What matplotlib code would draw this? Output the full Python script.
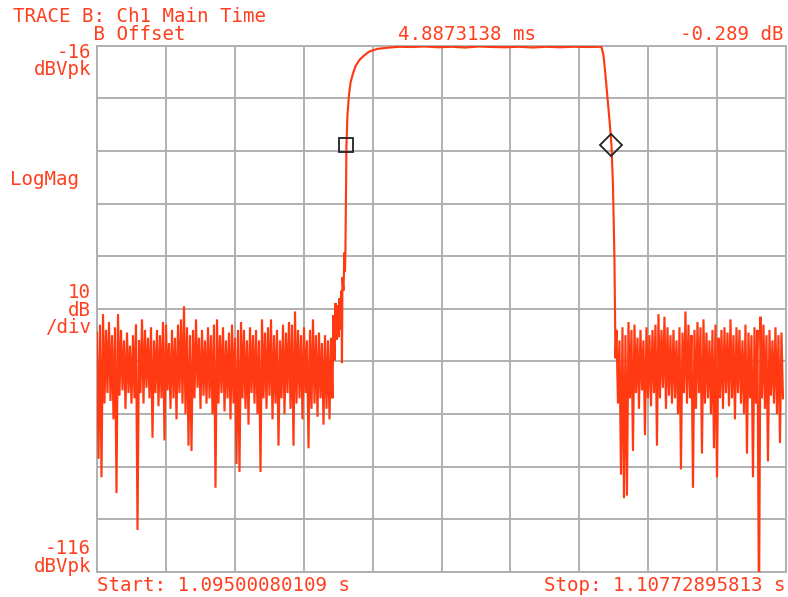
import numpy as np
import matplotlib
matplotlib.use("Agg")
import matplotlib.pyplot as plt

# ---------------- data (time in ms from start, level in dBVpk) ----------------
span_ms = 12.72815704
ms_per_px = span_ms / 689.0
noise_step = 3 * ms_per_px

# left noise floor (before burst): upper and lower excursions per step
left_t0 = 0.0
left_hi = [-70.5, -69, -67, -70, -68.5, -71, -69.5, -67, -70, -72, -70.5, -73, -71, -69, -72, -68,
           -70, -71.5, -69.5, -72, -70, -71, -68.5, -69, -72.5, -70, -71.5, -69, -68, -65.5, -69.5,
           -71, -70, -68, -71.5, -70, -72, -69.5, -71, -69, -68, -71, -69.5, -72, -70.5, -69, -71.5,
           -70, -68.5, -70, -72, -69.5, -71, -70, -72, -68, -70.5, -69.5, -68, -71, -70, -72, -69,
           -70.5, -68.5, -69, -66.5, -70, -71, -69.5, -72, -70, -68, -71, -70.5, -72.5, -71, -72, -71.5]
left_lo = [-94.5, -98, -84, -82, -83.5, -87, -101, -82.5, -81.5, -85, -82, -84, -83, -108, -82, -84,
           -81, -83, -90.5, -82, -84.5, -83, -91, -81.5, -85, -83, -87, -82, -84, -86, -92, -93, -83,
           -81, -85, -82.5, -84, -83, -86, -100, -84, -82, -85.5, -83, -87, -84, -95.5, -97, -83, -85,
           -88, -82, -84, -86, -97, -83, -85, -82.5, -87, -84, -92, -83, -86, -82, -85, -92, -84, -83,
           -87, -82, -92.5, -85, -84, -86.5, -83, -88, -85, -87, -83]

# rising edge of the burst
rise_t = [4.3496, 4.3681, 4.3866, 4.4050, 4.4235, 4.4420, 4.4605, 4.4789, 4.4974, 4.5159, 4.5251,
          4.5344, 4.5528, 4.5713, 4.5805, 4.5898, 4.5990, 4.6083, 4.6267, 4.6545, 4.6822, 4.7191,
          4.7745, 4.8484, 4.9408, 5.0331, 5.1809, 5.4026, 5.5874]
rise_db = [-82.8, -67.2, -75.8, -64.9, -71.9, -65.3, -71.4, -64.0, -70.0, -62.5, -76.3,
           -60.0, -62.5, -55.3, -59.0, -54.5, -45.4, -34.9, -29.2, -25.4, -23.1, -21.6,
           -19.9, -18.7, -17.8, -17.1, -16.6, -16.35, -16.2]

# flat top of the burst
top_t = [5.80, 6.05, 6.30, 6.55, 6.80, 7.05, 7.30, 7.55, 7.80, 8.05, 8.30, 8.55, 8.80, 9.05, 9.2823]
top_db = [-16.25, -16.15, -16.3, -16.2, -16.35, -16.15, -16.25, -16.3, -16.2, -16.35, -16.2, -16.3,
          -16.2, -16.25, -16.2]

# falling edge
fall_t = [9.3193, 9.3562, 9.3932, 9.4301, 9.4671, 9.5040, 9.5317, 9.5594, 9.5779]
fall_db = [-16.3, -17.8, -21.6, -25.8, -30.1, -34.9, -42.5, -56.8, -75.4]

# right noise floor (after burst)
right_t0 = 9.5964
right_hi = [-70, -72, -69.5, -71, -68.5, -70, -69, -71.5, -70, -72, -69.5, -71, -70, -69, -67, -70,
            -67.5, -69.5, -71, -70, -72, -69.5, -70.5, -66.5, -69, -71, -70, -68.5, -69.5, -68, -70.5,
            -72, -70, -69, -71.5, -70, -69.5, -70.5, -68, -71, -69.5, -70, -72, -69, -70.5, -71, -69.5,
            -70, -67.5, -69, -71, -70, -72, -69.5, -71, -70.5]
right_lo = [-84, -97.5, -102, -101.5, -83, -93, -82, -85, -81.5, -90, -83, -84.5, -82, -92, -83, -81,
            -85, -82.5, -84, -83, -86, -96.5, -82, -84, -83, -100, -85, -82, -93.5, -84, -83, -86,
            -92.5, -98, -83, -85, -82, -84.5, -83, -87, -82, -84, -86, -93.5, -83, -98, -84, -125,
            -83, -85, -95, -82.5, -84, -86, -91.5, -83]

# markers
marker1_t, marker1_db = 4.6083, -34.9
marker2_t, marker2_db = 9.5040, -34.9

y_top, y_bottom, y_div = -16, -116, 10

# ---------------- build trace ----------------
def zigzag(t0, hi, lo):
    t, v = [], []
    for i, (h, l) in enumerate(zip(hi, lo)):
        t += [t0 + i * noise_step, t0 + (i + 0.5) * noise_step]
        v += [h, l]
    return t, v

lt, lv = zigzag(left_t0, left_hi, left_lo)
rt, rv = zigzag(right_t0, right_hi, right_lo)
trace_t = np.array(lt + rise_t + top_t + fall_t + rt)
trace_v = np.array(lv + rise_db + top_db + fall_db + rv)

# ---------------- figure ----------------
W, H = 788, 597
fig = plt.figure(figsize=(W / 100, H / 100), dpi=100)
ax = fig.add_axes([97 / W, 1 - 572 / H, 689 / W, 526.3 / H])

red = '#ff3a12'
text_red = '#ff4020'
grid_c = '#b0b0b0'

ax.plot(trace_t, trace_v, color=red, lw=1.55, solid_joinstyle='miter', zorder=3)
ax.plot([marker1_t], [marker1_db], marker='s', ms=10, mfc='none', mec='#222222', mew=1.3, zorder=4)
ax.plot([marker2_t], [marker2_db], marker='D', ms=11, mfc='none', mec='#222222', mew=1.3, zorder=4)

ax.set_xlim(0, span_ms)
ax.set_ylim(y_bottom, y_top)
ax.set_xticks(np.linspace(0, span_ms, 11))
ax.set_yticks(np.arange(y_bottom, y_top + 1, y_div))
ax.grid(True, color=grid_c, lw=1.4)
ax.set_axisbelow(True)
ax.tick_params(length=0, labelbottom=False, labelleft=False)
for s in ax.spines.values():
    s.set_color(grid_c)
    s.set_linewidth(1.4)

def ftext(x, y, s, ha='left', va='baseline'):
    fig.text(x / W, 1 - y / H, s, ha=ha, va=va, color=text_red,
             family='DejaVu Sans Mono', fontsize=13.8, linespacing=0.9,
             multialignment=ha)

ftext(13, 40, 'TRACE B: Ch1 Main Time\n       B Offset')
ftext(398, 40, '4.8873138 ms')
ftext(784, 40, '-0.289 dB', ha='right')
ftext(91, 75, '-16\ndBVpk', ha='right')
ftext(10, 185, 'LogMag')
ftext(91, 333, '10\ndB\n/div', ha='right')
ftext(91, 572, '-116\ndBVpk', ha='right')
ftext(97, 591, 'Start: 1.09500080109 s')
ftext(785, 591, 'Stop: 1.10772895813 s', ha='right')

fig.savefig('out.png', dpi=100)
